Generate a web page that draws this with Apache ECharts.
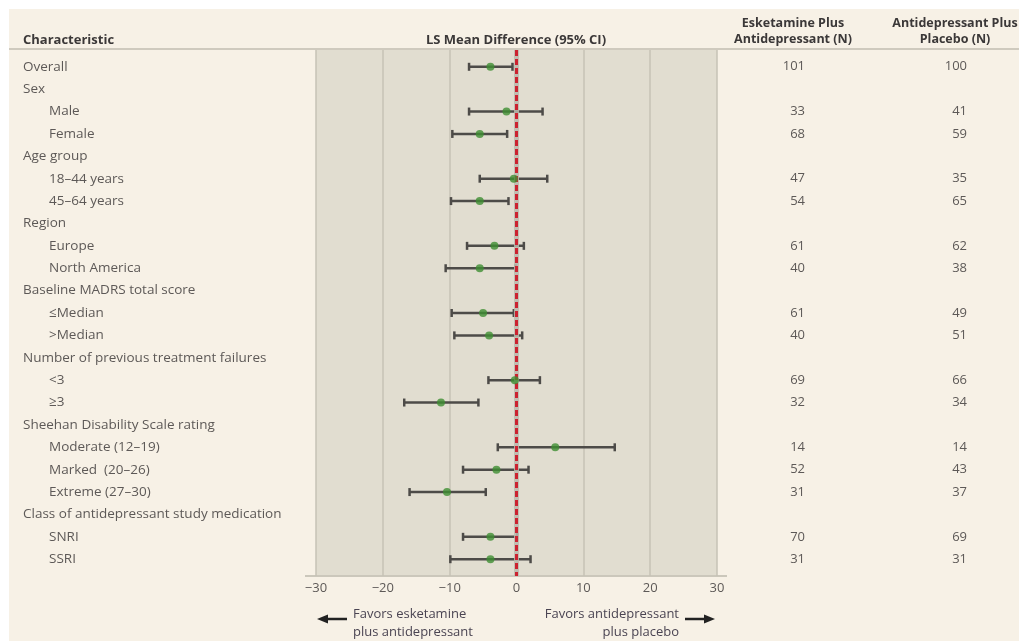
<!DOCTYPE html>
<html>
<head>
<meta charset="utf-8">
<script src="https://cdn.jsdelivr.net/npm/echarts@6/dist/echarts.min.js"></script>
<style>
  html, body { margin: 0; padding: 0; background: #fff; }
  #chart { width: 1019px; height: 641px; }
</style>
</head>
<body>
<div id="chart"></div>
<script>
// subgroup rows, top to bottom
var rowLabels = ['Overall', 'Sex', 'Male', 'Female', 'Age group', '18\u201344 years', '45\u201364 years',
    'Region', 'Europe', 'North America', 'Baseline MADRS total score', '\u2264Median', '>Median',
    'Number of previous treatment failures', '<3', '\u22653', 'Sheehan Disability Scale rating',
    'Moderate (12\u201319)', 'Marked  (20\u201326)', 'Extreme (27\u201330)',
    'Class of antidepressant study medication', 'SNRI', 'SSRI'];
var indent = [0, 0, 1, 1, 0, 1, 1, 0, 1, 1, 0, 1, 1, 0, 1, 1, 0, 1, 1, 1, 0, 1, 1];
var meanDiff = [-3.9, null, -1.5, -5.5, null, -0.4, -5.5, null, -3.3, -5.5, null, -5.0, -4.1, null, -0.25, -11.3, null, 5.8, -3.0, -10.4, null, -3.9, -3.9];
var ciLow = [-7.1, null, -7.1, -9.6, null, -5.5, -9.8, null, -7.4, -10.6, null, -9.7, -9.3, null, -4.2, -16.8, null, -2.8, -8.0, -16.0, null, -8.0, -9.9];
var ciHigh = [-0.6, null, 3.9, -1.4, null, 4.6, -1.2, null, 1.1, -0.15, null, -0.4, 0.85, null, 3.5, -5.7, null, 14.7, 1.8, -4.6, null, 0.1, 2.1];
var nEsketamine = [101, null, 33, 68, null, 47, 54, null, 61, 40, null, 61, 40, null, 69, 32, null, 14, 52, 31, null, 70, 31];
var nPlacebo = [100, null, 41, 59, null, 35, 65, null, 62, 38, null, 49, 51, null, 66, 34, null, 14, 43, 37, null, 69, 31];
var xTicks = [-30, -20, -10, 0, 10, 20, 30];

var FONT = '"Open Sans", Lato, sans-serif';
var TXT = '#5d5957';
var HEAD = '#3b3838';

var ciData = [], pointData = [], tableData = [];
rowLabels.forEach(function (lab, i) {
    tableData.push([0, i]);
    if (meanDiff[i] != null) {
        ciData.push([ciLow[i], ciHigh[i], i]);
        pointData.push([meanDiff[i], i]);
    }
});

var chart = echarts.init(document.getElementById('chart'));

var option = {
    backgroundColor: '#fff',
    animation: false,
    grid: {
        left: 316, right: 302, top: 50, bottom: 65,
        show: true, backgroundColor: '#e1ddd0', borderWidth: 0
    },
    xAxis: {
        type: 'value', min: -30, max: 30, interval: 10,
        axisLine: { show: false },
        axisTick: { show: false },
        splitLine: { show: true, lineStyle: { color: '#c6c2b6', width: 1.5 } },
        axisLabel: {
            margin: 6, color: TXT, fontFamily: FONT, fontSize: 13,
            formatter: function (v) { return xTicks.indexOf(v) >= 0 ? String(v).replace('-', '\u2212') : ''; }
        }
    },
    yAxis: {
        type: 'value', inverse: true, min: -0.75, max: 22.75,
        show: false
    },
    graphic: [
        { type: 'rect', z: -10, shape: { x: 9, y: 9, width: 1010, height: 632 }, style: { fill: '#f7f1e6' } },
        { type: 'line', shape: { x1: 9, y1: 49, x2: 1019, y2: 49 }, style: { stroke: '#cfcabe', lineWidth: 2 } },
        { type: 'line', shape: { x1: 305, y1: 576, x2: 727, y2: 576 }, style: { stroke: '#cbc7bb', lineWidth: 2 } },
        { type: 'text', style: { text: 'Characteristic', x: 23, y: 40, font: 'bold 13px ' + FONT, fill: HEAD, verticalAlign: 'middle' } },
        { type: 'text', style: { text: 'LS Mean Difference (95% CI)', x: 516, y: 40, font: 'bold 13px ' + FONT, fill: HEAD, align: 'center', verticalAlign: 'middle' } },
        { type: 'text', style: { text: 'Esketamine Plus\nAntidepressant (N)', x: 793, y: 31, lineHeight: 16, font: 'bold 12.5px ' + FONT, fill: HEAD, align: 'center', verticalAlign: 'middle' } },
        { type: 'text', style: { text: 'Antidepressant Plus\nPlacebo (N)', x: 955, y: 31, lineHeight: 16, font: 'bold 12.5px ' + FONT, fill: HEAD, align: 'center', verticalAlign: 'middle' } },
        // favours arrows
        { type: 'line', shape: { x1: 326, y1: 619, x2: 347, y2: 619 }, style: { stroke: '#222', lineWidth: 2.5 } },
        { type: 'polygon', shape: { points: [[317, 619], [328, 614.5], [328, 623.5]] }, style: { fill: '#222' } },
        { type: 'line', shape: { x1: 685, y1: 619, x2: 706, y2: 619 }, style: { stroke: '#222', lineWidth: 2.5 } },
        { type: 'polygon', shape: { points: [[715, 619], [704, 614.5], [704, 623.5]] }, style: { fill: '#222' } },
        { type: 'text', style: { text: 'Favors esketamine\nplus antidepressant', x: 353, y: 623, lineHeight: 18, font: '13px ' + FONT, fill: '#4a4452', verticalAlign: 'middle' } },
        { type: 'text', style: { text: 'Favors antidepressant\nplus placebo', x: 679, y: 623, lineHeight: 18, font: '13px ' + FONT, fill: '#4a4452', align: 'right', verticalAlign: 'middle' } }
    ],
    series: [
        {
            type: 'custom', z: 3,
            data: ciData,
            encode: { x: [0, 1], y: 2 },
            renderItem: function (params, api) {
                var lo = api.coord([api.value(0), api.value(2)]);
                var hi = api.coord([api.value(1), api.value(2)]);
                var st = { stroke: '#4d4b48', lineWidth: 2.5 };
                var cap = 4;
                return {
                    type: 'group',
                    children: [
                        { type: 'line', shape: { x1: lo[0], y1: lo[1], x2: hi[0], y2: hi[1] }, style: st },
                        { type: 'line', shape: { x1: lo[0], y1: lo[1] - cap, x2: lo[0], y2: lo[1] + cap }, style: st },
                        { type: 'line', shape: { x1: hi[0], y1: hi[1] - cap, x2: hi[0], y2: hi[1] + cap }, style: st }
                    ]
                };
            }
        },
        {
            // zero reference line, over the bars
            type: 'line', data: [], silent: true, z: 4,
            markLine: {
                symbol: 'none', silent: true, label: { show: false },
                data: [
                    { xAxis: 0, lineStyle: { color: '#bcb8ae', width: 5, type: 'solid', opacity: 0.85 } },
                    { xAxis: 0, lineStyle: { color: '#cc2230', width: 3, type: [6, 3] } }
                ]
            }
        },
        {
            type: 'scatter', z: 5,
            data: pointData,
            symbol: 'circle', symbolSize: 8,
            itemStyle: { color: '#3f8f32' }
        },
        {
            // table text: labels and N columns
            type: 'custom', z: 6,
            data: tableData,
            renderItem: function (params, api) {
                var i = api.value(1);
                var y = api.coord([0, i])[1];
                var kids = [{
                    type: 'text',
                    style: {
                        text: rowLabels[i], x: indent[i] ? 49 : 23, y: y,
                        font: '13.5px ' + FONT, fill: TXT, verticalAlign: 'middle'
                    }
                }];
                if (nEsketamine[i] != null) {
                    kids.push({ type: 'text', style: { text: String(nEsketamine[i]), x: 805, y: y, font: '13px ' + FONT, fill: TXT, align: 'right', verticalAlign: 'middle' } });
                    kids.push({ type: 'text', style: { text: String(nPlacebo[i]), x: 967, y: y, font: '13px ' + FONT, fill: TXT, align: 'right', verticalAlign: 'middle' } });
                }
                return { type: 'group', children: kids };
            }
        }
    ]
};

chart.setOption(option);
</script>
</body>
</html>
